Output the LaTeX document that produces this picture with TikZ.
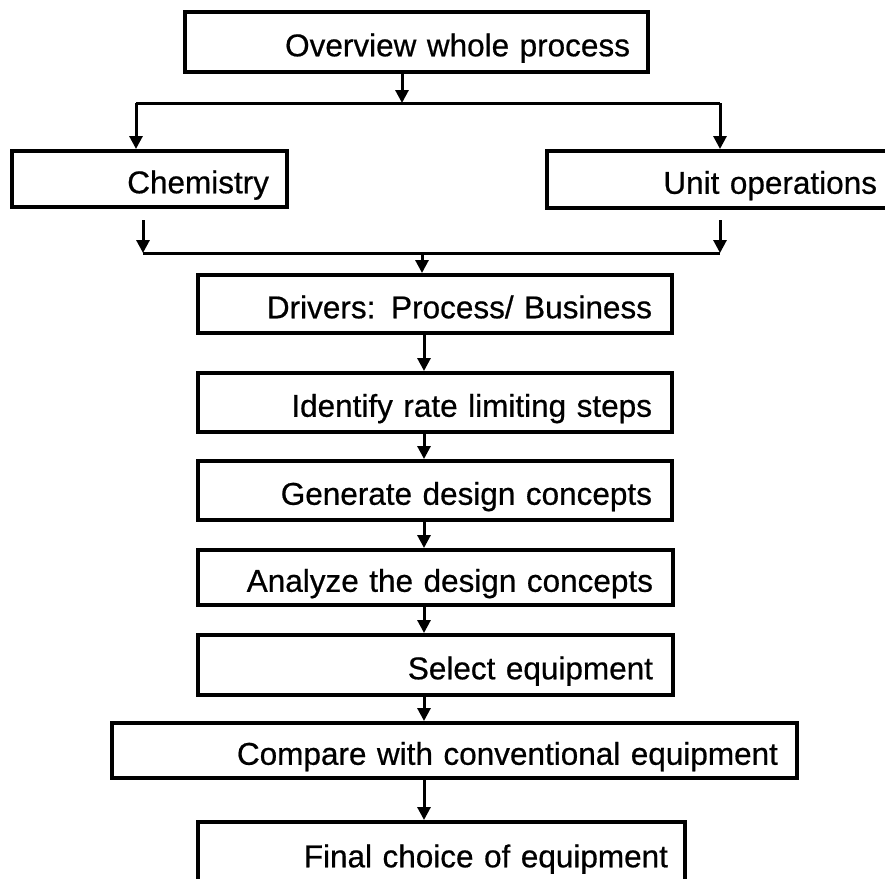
\documentclass[tikz,border=0pt]{standalone}
\usepackage{fontspec}
\setmainfont{Liberation Sans}
\newfontfamily\lblfont{Liberation Sans}[FakeBold=0.6]
\usetikzlibrary{arrows.meta}
\begin{document}
\begin{tikzpicture}[x=1pt,y=-1pt,
  box/.style={draw, line width=4pt, rectangle, align=right, text height=28.5pt, text depth=0pt,
    font=\lblfont\fontsize{31.5}{36}\selectfont},
  ln/.style={line width=3pt},
  arr/.style={line width=3pt, -{Triangle[length=13pt,width=13pt]}}]
\useasboundingbox (0,0) rectangle (885,878);
\node[box, minimum width=463pt, minimum height=60pt, text width=427pt, inner xsep=18pt] (ov) at (416.5,42) {Overview whole process};
\node[box, minimum width=275pt, minimum height=56pt, text width=239pt, inner xsep=18pt] (chem) at (149.5,179) {Chemistry};
\node[box, minimum width=343pt, minimum height=57pt, text width=317pt, inner xsep=13pt] (unit) at (718.5,179.5) {Unit operations};
\node[box, minimum width=474pt, minimum height=58pt, text width=434pt, inner xsep=20pt] (drv) at (435,304) {Drivers: Process/ Business};
\node[box, minimum width=474pt, minimum height=59pt, text width=434pt, inner xsep=20pt] (idf) at (435,402.5) {Identify rate limiting steps};
\node[box, minimum width=474pt, minimum height=59pt, text width=434pt, inner xsep=20pt] (gen) at (435,490.5) {Generate design concepts};
\node[box, minimum width=475pt, minimum height=55pt, text width=435pt, inner xsep=20pt] (ana) at (435.5,577.5) {Analyze the design concepts};
\node[box, minimum width=475pt, minimum height=60pt, text width=435pt, inner xsep=20pt] (sel) at (435.5,665) {Select equipment};
\node[box, minimum width=685pt, minimum height=55pt, text width=647pt, inner xsep=19pt] (cmp) at (454.5,750.5) {Compare with conventional equipment};
\node[box, minimum width=487pt, minimum height=62pt, text width=453pt, inner xsep=17pt] (fin) at (441.5,853) {Final choice of equipment};
% top split
\coordinate (j1) at (402,103);
\coordinate (jl) at (136,103);
\coordinate (jr) at (720,103);
\draw[arr] (ov.south -| j1) -- (j1);
\draw[ln] (jl) -- (jr);
\draw[arr] (jl) -- (jl |- chem.north);
\draw[arr] (jr) -- (jr |- unit.north);
% merge
\coordinate (c1) at (143,220);
\coordinate (c2) at (143,253);
\coordinate (u1) at (720,220);
\coordinate (u2) at (720,253);
\coordinate (j2) at (422,253);
\draw[arr] (c1) -- (c2);
\draw[arr] (u1) -- (u2);
\draw[ln] (c2) -- (u2);
\draw[arr] (j2) -- (j2 |- drv.north);
% chain
\coordinate (k) at (424,0);
\draw[arr] (drv.south -| k) -- (idf.north -| k);
\draw[arr] (idf.south -| k) -- (gen.north -| k);
\draw[arr] (gen.south -| k) -- (ana.north -| k);
\draw[arr] (ana.south -| k) -- (sel.north -| k);
\draw[arr] (sel.south -| k) -- (cmp.north -| k);
\draw[arr] (cmp.south -| k) -- (fin.north -| k);
\end{tikzpicture}
\end{document}
